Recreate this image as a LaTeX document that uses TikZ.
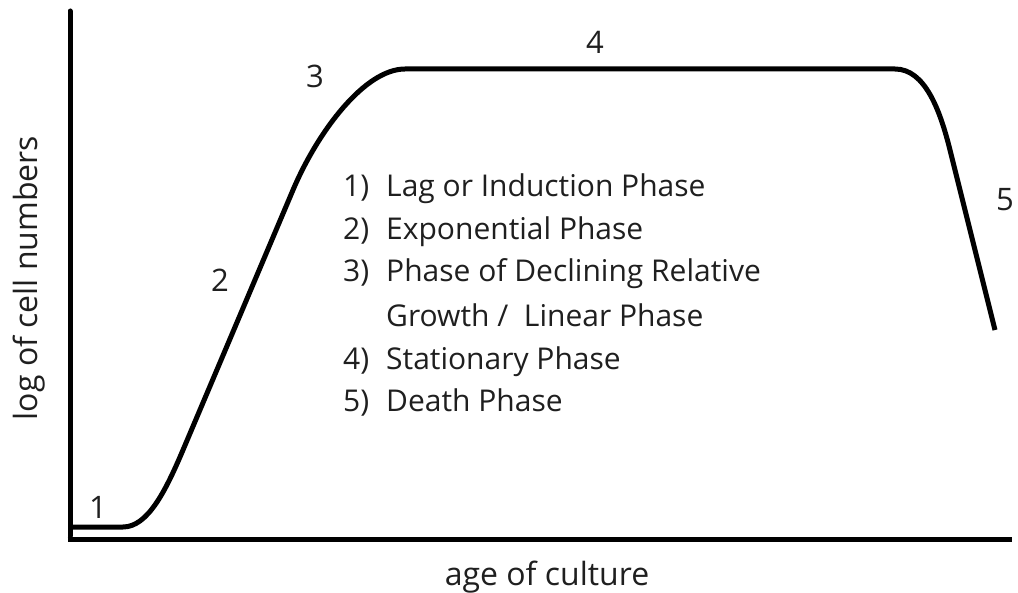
\documentclass[tikz,border=0pt]{standalone}
\usepackage{fontspec}
\setmainfont{Open Sans}
\begin{document}
\begin{tikzpicture}[x=1pt,y=-1pt,
  axisline/.style={line width=5pt,black},
  curveline/.style={line width=5pt,black,line join=round},
  phaselbl/.style={inner sep=0pt,text=black!88,font=\fontsize{31}{36}\selectfont},
  axislbl/.style={inner sep=0pt,text=black!88,font=\fontsize{32}{38}\selectfont},
  listnum/.style={inner sep=0pt,anchor=base west,text=black!88,font=\fontsize{30}{36}\selectfont},
  listtxt/.style={inner sep=0pt,anchor=base west,text=black!88,font=\fontsize{30}{36}\selectfont}]
\useasboundingbox (0,0) rectangle (1018,593);
% axes
\coordinate (ytop) at (70,11);
\coordinate (origin) at (70,539);
\coordinate (xend) at (1012,539);
\draw[axisline,line cap=round] (ytop) -- (70,536);
\draw[axisline] (67.5,539) -- (xend);
% growth curve
\draw[curveline] (70,527) -- (123,527)
  .. controls (148,527) and (166,490) .. (183,450)
  -- (293,190)
  .. controls (318,131) and (365,69) .. (405,69)
  -- (895,69)
  .. controls (925,69) and (940,110) .. (950,150)
  -- (995,330);
% phase numbers
\node[phaselbl] (p1) at (98,507) {1};
\node[phaselbl] (p2) at (220,280) {2};
\node[phaselbl] (p3) at (315,76) {3};
\node[phaselbl] (p4) at (595,42) {4};
\node[phaselbl] (p5) at (1005,200) {5};
% list
\node[listnum] (n1) at (343,197) {1)};
\node[listtxt] (t1) at (386,197) {Lag or Induction Phase};
\node[listnum] (n2) at (343,240) {2)};
\node[listtxt] (t2) at (386,240) {Exponential Phase};
\node[listnum] (n3) at (343,282) {3)};
\node[listtxt] (t3) at (386,282) {Phase of Declining Relative};
\node[listtxt] (t3b) at (386,327) {Growth /\ \ Linear Phase};
\node[listnum] (n4) at (343,370) {4)};
\node[listtxt] (t4) at (386,370) {Stationary Phase};
\node[listnum] (n5) at (343,412) {5)};
\node[listtxt] (t5) at (386,412) {Death Phase};
% axis labels
\node[axislbl,anchor=base] (xl) at (547,585) {age of culture};
\node[axislbl,anchor=base,rotate=90] (yl) at (37,278) {log of cell numbers};
\end{tikzpicture}
\end{document}
